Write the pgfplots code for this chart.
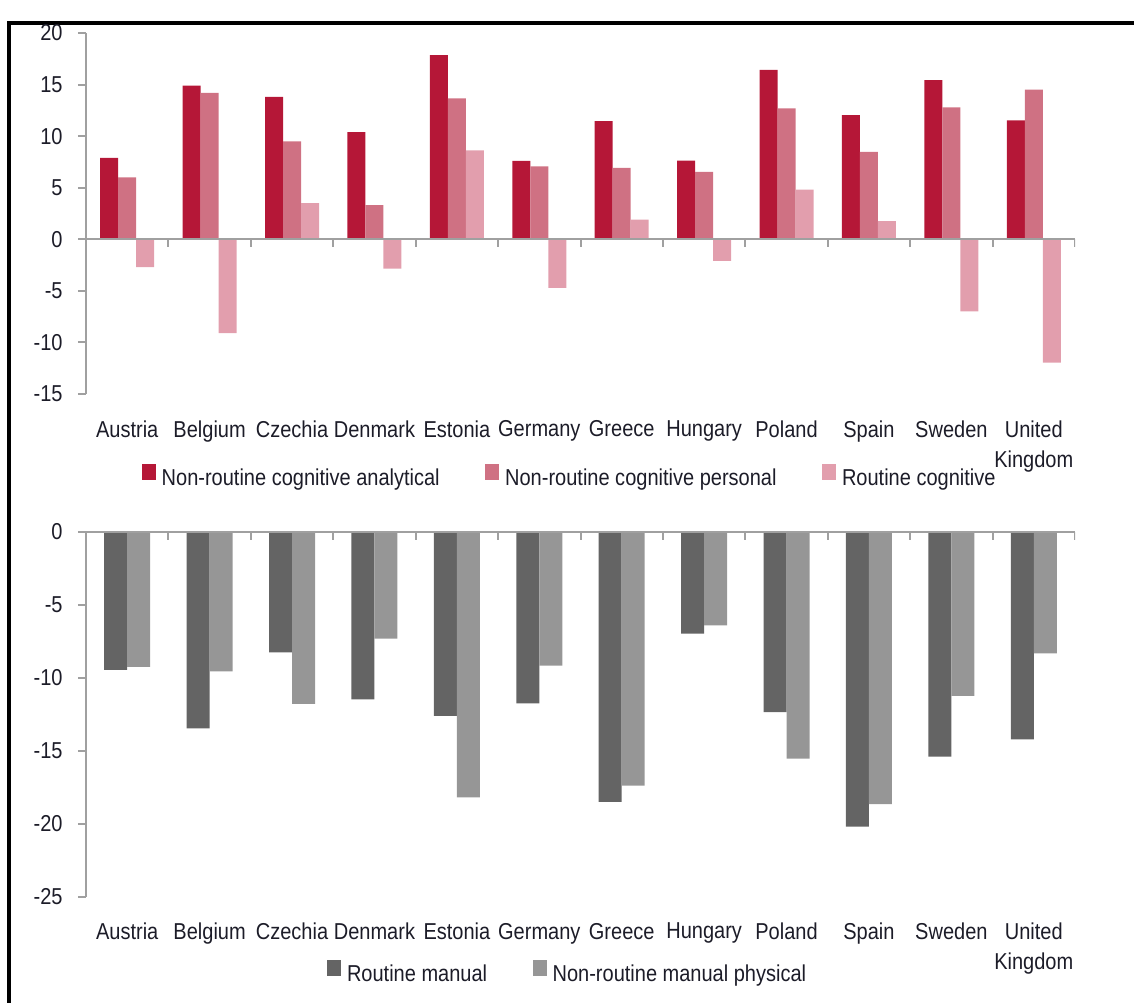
\documentclass[border=0pt]{standalone}
\usepackage{pgfplots}
\pgfplotsset{compat=1.18}
\usepackage{fontspec}
\setmainfont[FakeStretch=0.87]{Liberation Sans}
\definecolor{cA}{HTML}{B51737}
\definecolor{cB}{HTML}{CF7183}
\definecolor{cC}{HTML}{E29EAD}
\definecolor{gA}{HTML}{646464}
\definecolor{gB}{HTML}{969696}
\definecolor{axg}{HTML}{A0A0A0}
\definecolor{txt}{HTML}{1C1C28}
\newcommand{\lblfont}{\fontsize{8.05}{10.5}\selectfont}
\pgfplotsset{
  common/.style={
    scale only axis, anchor=south west,
    width=346.15pt,
    xmin=-0.5, xmax=11.5,
    axis x line*=bottom, axis y line*=left,
    x axis line style={draw=none},
    y axis line style={draw=axg, line width=0.7pt},
    xtick={0,...,11},
    xticklabels={Austria,Belgium,Czechia,Denmark,Estonia,Germany,Greece,Hungary,Poland,Spain,Sweden,{United\\Kingdom}},
    xtick style={draw=none},
    ytick style={draw=axg, line width=0.7pt},
    ytick align=outside, major tick length=2.8pt,
    tick label style={font=\lblfont, text=txt},
    xticklabel style={align=center, anchor=north, yshift=-2.9pt},
    yticklabel style={xshift=-1.85pt},
    /pgf/number format/assume math mode=true,
    legend style={draw=none, fill=none, font=\lblfont, text=txt, inner sep=0pt,
      /tikz/every even column/.append style={column sep=14pt}},
    legend cell align=left,
  },
  sq/.style={legend image code/.code={\fill[#1] (0.3pt,-0.2pt) rectangle (5.2pt,5.1pt);}},
}
\begin{document}
\begin{tikzpicture}
\useasboundingbox (0,0) rectangle (396.9pt,351.05pt);
\draw[black, line width=1.1pt] (3.15pt,0pt) -- (3.15pt,343pt) -- (396.9pt,343pt);
% top panel
\begin{axis}[common,
  at={(30.1pt,213.15pt)}, height=126.35pt,
  ymin=-15, ymax=20, ytick={-15,-10,...,20},
  ybar=0pt, bar width=6.3pt,
  legend columns=3,
  legend style={at={(0.491,-0.2355)}, anchor=center},
]
\addplot[fill=cA, draw=none, sq=cA] coordinates {(0,7.9) (1,14.9) (2,13.8) (3,10.4) (4,17.85) (5,7.6) (6,11.45) (7,7.63) (8,16.42) (9,12.03) (10,15.42) (11,11.54)};
\addlegendentry{Non-routine cognitive analytical}
\addplot[fill=cB, draw=none, sq=cB] coordinates {(0,6.0) (1,14.2) (2,9.5) (3,3.3) (4,13.65) (5,7.08) (6,6.92) (7,6.53) (8,12.7) (9,8.47) (10,12.8) (11,14.52)};
\addlegendentry{Non-routine cognitive personal}
\addplot[fill=cC, draw=none, sq=cC] coordinates {(0,-2.7) (1,-9.1) (2,3.5) (3,-2.85) (4,8.63) (5,-4.72) (6,1.9) (7,-2.1) (8,4.82) (9,1.75) (10,-6.98) (11,-11.96)};
\addlegendentry{Routine cognitive}
\draw[axg, line width=0.7pt] (axis cs:-0.5,0) -- (axis cs:11.5,0);
\pgfplotsinvokeforeach{0.5,1.5,2.5,3.5,4.5,5.5,6.5,7.5,8.5,9.5,10.5,11.5}{
  \draw[axg, line width=0.7pt] (axis cs:#1,0) -- ([yshift=-2.8pt]axis cs:#1,0);
}
\end{axis}
% bottom panel
\begin{axis}[common,
  at={(30.1pt,37.2pt)}, height=127.75pt,
  ymin=-25, ymax=0, ytick={-25,-20,...,0},
  ybar=0pt, bar width=8.05pt,
  legend columns=2,
  legend style={at={(0.489,-0.2145)}, anchor=center},
]
\addplot[fill=gA, draw=none, sq=gA] coordinates {(0,-9.47) (1,-13.47) (2,-8.26) (3,-11.48) (4,-12.62) (5,-11.76) (6,-18.51) (7,-6.98) (8,-12.35) (9,-20.2) (10,-15.4) (11,-14.22)};
\addlegendentry{Routine manual}
\addplot[fill=gB, draw=none, sq=gB] coordinates {(0,-9.25) (1,-9.56) (2,-11.8) (3,-7.33) (4,-18.19) (5,-9.18) (6,-17.39) (7,-6.41) (8,-15.55) (9,-18.65) (10,-11.25) (11,-8.33)};
\addlegendentry{Non-routine manual physical}
\draw[axg, line width=0.7pt] (axis cs:-0.5,0) -- (axis cs:11.5,0);
\pgfplotsinvokeforeach{0.5,1.5,2.5,3.5,4.5,5.5,6.5,7.5,8.5,9.5,10.5,11.5}{
  \draw[axg, line width=0.7pt] (axis cs:#1,0) -- ([yshift=-2.8pt]axis cs:#1,0);
}
\end{axis}
\end{tikzpicture}
\end{document}
